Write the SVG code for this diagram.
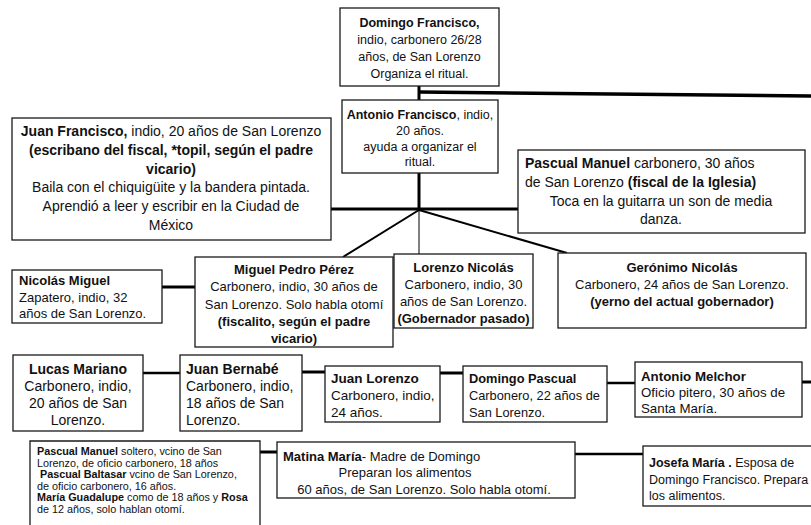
<svg xmlns="http://www.w3.org/2000/svg" width="811" height="525" viewBox="0 0 811 525">
<style>
text{font-family:"Liberation Sans",Arial,sans-serif;fill:#111;}
.b{font-weight:bold;}
.c{text-anchor:middle;}
.box{fill:#fff;stroke:#1a1a1a;stroke-width:1.3;}
.sh{fill:none;stroke:#b5b5b5;stroke-width:1.5;}
.k{stroke:#000;fill:none;stroke-linecap:butt;}
</style>
<rect width="811" height="525" fill="#fff"/>

<g id="connectors">
<line class="k" x1="419" y1="86" x2="419" y2="100" stroke-width="3"/>
<line class="k" x1="419" y1="92" x2="811" y2="96" stroke-width="3.5"/>
<line class="k" x1="419" y1="173" x2="419" y2="211" stroke-width="3"/>
<line class="k" x1="331" y1="209" x2="518" y2="209" stroke-width="3"/>
<line class="k" x1="419" y1="210" x2="343" y2="257" stroke-width="2"/>
<line class="k" x1="419" y1="210" x2="419" y2="254" stroke-width="1"/>
<line class="k" x1="419" y1="210" x2="567" y2="253" stroke-width="2"/>
<line class="k" x1="162" y1="287" x2="195" y2="287" stroke-width="3"/>
<line class="k" x1="143" y1="373" x2="180" y2="373" stroke-width="2.5"/>
<line class="k" x1="302" y1="372" x2="325" y2="372" stroke-width="3"/>
<line class="k" x1="440" y1="373" x2="463" y2="373" stroke-width="3"/>
<line class="k" x1="607" y1="383" x2="635" y2="383" stroke-width="2.5"/>
<line class="k" x1="802" y1="382" x2="811" y2="382" stroke-width="3"/>
<line class="k" x1="260" y1="452" x2="277" y2="452" stroke-width="3"/>
<line class="k" x1="575" y1="454" x2="643" y2="454" stroke-width="2.5"/>
</g>

<g id="domingo-francisco">
<rect class="box" x="340" y="8" width="159" height="78"/>
<text class="c" font-size="12.5"><tspan class="b" x="419.5" y="26.5">Domingo Francisco,</tspan><tspan x="419.5" y="43.5">indio, carbonero 26/28</tspan><tspan x="419.5" y="60.5">años, de San Lorenzo</tspan><tspan x="419.5" y="77.5">Organiza el ritual.</tspan></text>
</g>

<g id="antonio-francisco">
<rect class="box" x="342" y="100" width="156" height="73"/>
<text class="c" font-size="12.5"><tspan x="420" y="119"><tspan class="b">Antonio Francisco</tspan>, indio,</tspan><tspan x="420" y="135">20 años.</tspan><tspan x="420" y="150.5">ayuda a organizar el</tspan><tspan x="420" y="166">ritual.</tspan></text>
</g>

<g id="juan-francisco">
<rect class="box" x="12" y="118" width="319" height="122"/>
<text class="c" font-size="14"><tspan x="171" y="136"><tspan class="b">Juan Francisco,</tspan> indio, 20 años de San Lorenzo</tspan><tspan class="b" x="171" y="155">(escribano del fiscal, *topil, según el padre</tspan><tspan class="b" x="171" y="173.5">vicario)</tspan><tspan x="171" y="192">Baila con el chiquigüite y la bandera pintada.</tspan><tspan x="171" y="211">Aprendió a leer y escribir en la Ciudad de</tspan><tspan x="171" y="229.5">México</tspan></text>
</g>

<g id="pascual-manuel-fiscal">
<rect class="box" x="518" y="150" width="287" height="83"/>
<text font-size="14"><tspan x="525" y="168"><tspan class="b">Pascual Manuel</tspan>  carbonero, 30 años</tspan><tspan x="525" y="187">de San Lorenzo <tspan class="b">(fiscal de la Iglesia)</tspan></tspan><tspan class="c" x="661" y="206">Toca en la guitarra un son de media</tspan><tspan class="c" x="661" y="224">danza.</tspan></text>
</g>

<g id="nicolas-miguel">
<rect class="box" x="12" y="270" width="150" height="53"/>
<text font-size="13"><tspan class="b" x="19" y="285">Nicolás Miguel</tspan><tspan x="19" y="301.5">Zapatero, indio, 32</tspan><tspan x="19" y="318">años de San Lorenzo.</tspan></text>
</g>

<g id="miguel-pedro-perez">
<rect class="box" x="195" y="257" width="198" height="90"/>
<text class="c" font-size="13"><tspan class="b" x="294" y="273.5">Miguel Pedro Pérez</tspan><tspan x="294" y="291">Carbonero, indio, 30 años de</tspan><tspan x="294" y="308.5">San Lorenzo. Solo habla otomí</tspan><tspan class="b" x="294" y="326">(fiscalito, según el padre</tspan><tspan class="b" x="294" y="343">vicario)</tspan></text>
</g>

<g id="lorenzo-nicolas">
<rect class="box" x="394" y="254" width="139" height="74"/>
<text class="c" font-size="13"><tspan class="b" x="463.5" y="272">Lorenzo Nicolás</tspan><tspan x="463.5" y="289">Carbonero, indio, 30</tspan><tspan x="463.5" y="306">años de San Lorenzo.</tspan><tspan class="b" x="463.5" y="322.5">(Gobernador pasado)</tspan></text>
</g>

<g id="geronimo-nicolas">
<rect class="box" x="558" y="253" width="248" height="75"/>
<text class="c" font-size="13"><tspan class="b" x="682" y="272">Gerónimo Nicolás</tspan><tspan x="682" y="289">Carbonero, 24 años de San Lorenzo.</tspan><tspan class="b" x="682" y="306">(yerno del actual gobernador)</tspan></text>
</g>

<g id="lucas-mariano">
<rect class="box" x="13" y="355" width="130" height="76"/>
<text class="c" font-size="14"><tspan class="b" x="78" y="373.5">Lucas Mariano</tspan><tspan x="78" y="391">Carbonero, indio,</tspan><tspan x="78" y="408">20 años de San</tspan><tspan x="78" y="425">Lorenzo.</tspan></text>
</g>

<g id="juan-bernabe">
<rect class="box" x="180" y="355" width="122" height="76"/>
<text font-size="14"><tspan class="b" x="186" y="373.5">Juan Bernabé</tspan><tspan x="186" y="391">Carbonero, indio,</tspan><tspan x="186" y="408">18 años de San</tspan><tspan x="186" y="425">Lorenzo.</tspan></text>
</g>

<g id="juan-lorenzo">
<rect class="box" x="325" y="366" width="115" height="56"/>
<text font-size="13.5"><tspan class="b" x="331" y="382.5">Juan Lorenzo</tspan><tspan x="331" y="399.5">Carbonero, indio,</tspan><tspan x="331" y="416.5">24 años.</tspan></text>
</g>

<g id="domingo-pascual">
<rect class="box" x="463" y="366" width="144" height="56"/>
<text font-size="12.8"><tspan class="b" x="469" y="382.5">Domingo Pascual</tspan><tspan x="469" y="399.5">Carbonero, 22 años de</tspan><tspan x="469" y="416.5">San Lorenzo.</tspan></text>
</g>

<g id="antonio-melchor">
<rect class="box" x="635" y="362" width="167" height="55"/>
<text font-size="13.3"><tspan class="b" x="641" y="380.5">Antonio Melchor</tspan><tspan x="641" y="397">Oficio pitero, 30 años de</tspan><tspan x="641" y="413">Santa María.</tspan></text>
</g>

<g id="pascual-manuel-soltero">
<path class="box" d="M30,530 V441 H260 V530"/>
<text font-size="10.8"><tspan x="37" y="455"><tspan class="b">Pascual Manuel</tspan> soltero, vcino de San</tspan><tspan x="37" y="466.5">Lorenzo, de oficio carbonero, 18 años</tspan><tspan x="37" y="478"> <tspan class="b">Pascual Baltasar</tspan>  vcino de San Lorenzo,</tspan><tspan x="37" y="489.5">de oficio carbonero, 16 años.</tspan><tspan x="37" y="501"><tspan class="b">María Guadalupe</tspan> como de 18 años y <tspan class="b">Rosa</tspan></tspan><tspan x="37" y="512.5">de 12 años, solo hablan otomí.</tspan></text>
</g>

<g id="matina-maria">
<rect class="box" x="277" y="442" width="298" height="56"/>
<text font-size="13"><tspan x="283" y="460.5"><tspan class="b">Matina María</tspan>- Madre de Domingo</tspan><tspan x="405" class="c" y="477">Preparan los alimentos</tspan><tspan x="424" class="c" y="493.5">60 años, de San Lorenzo. Solo habla otomí.</tspan></text>
</g>

<g id="josefa-maria">
<rect class="box" x="643" y="446" width="180" height="60"/>
<text font-size="12.5"><tspan x="649" y="467"><tspan class="b">Josefa María .</tspan>  Esposa de</tspan><tspan x="649" y="484">Domingo Francisco. Prepara</tspan><tspan x="649" y="500">los alimentos.</tspan></text>
</g>
</svg>
